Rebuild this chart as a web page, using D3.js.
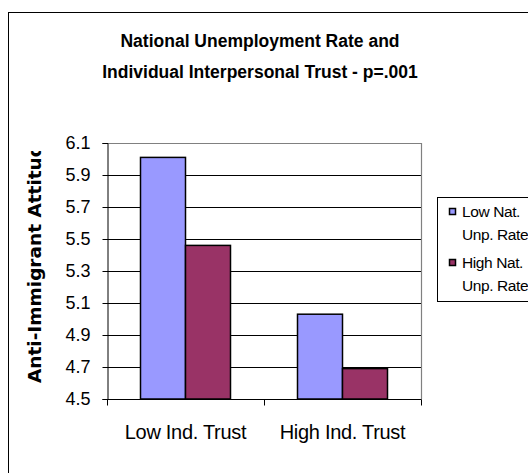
<!DOCTYPE html>
<html>
<head>
<meta charset="utf-8">
<script src="https://cdn.jsdelivr.net/npm/d3@7/dist/d3.min.js"></script>
<style>
  html, body { margin: 0; padding: 0; background: #fff; }
  svg { display: block; }
  text { font-family: Arial, "Liberation Sans", sans-serif; fill: #000; }
</style>
</head>
<body>
<svg id="chart" width="528" height="473"></svg>
<script>
// Chart data
const categories = ["Low Ind. Trust", "High Ind. Trust"];
const seriesNames = ["Low Nat. Unp. Rate", "High Nat. Unp. Rate"];
const legendLines = [["Low Nat.", "Unp. Rate"], ["High Nat.", "Unp. Rate"]];
const lowNatUnpRate = [6.01, 5.03];
const highNatUnpRate = [5.46, 4.69];
const yTickValues = [4.5, 4.7, 4.9, 5.1, 5.3, 5.5, 5.7, 5.9, 6.1];
const seriesColors = ["#9999FF", "#993366"];
const titleLines = ["National Unemployment Rate and", "Individual Interpersonal Trust - p=.001"];
const yAxisTitle = "Anti-Immigrant Attitudes";

const svg = d3.select("#chart");

// Outer chart frame (runs off the right and bottom edges)
svg.append("rect")
  .attr("x", 8.5).attr("y", 12.5)
  .attr("width", 560).attr("height", 500)
  .attr("fill", "#fff").attr("stroke", "#000").attr("stroke-width", 1);

// Plot area
const plot = { left: 107, right: 421, top: 143, bottom: 399 };

const y = d3.scaleLinear().domain([4.5, 6.1]).range([plot.bottom, plot.top]);
const p = 0.4268;
const x0 = d3.scaleBand().domain(categories).range([plot.left, plot.right])
  .paddingInner(p).paddingOuter(p / 2);
const x1 = d3.scaleBand().domain(seriesNames).range([0, x0.bandwidth()]);

// Horizontal gridlines
svg.append("g")
  .selectAll("line")
  .data(yTickValues.filter(v => v > 4.5 && v < 6.1))
  .join("line")
  .attr("x1", plot.left).attr("x2", plot.right)
  .attr("y1", d => Math.round(y(d)) + 0.5).attr("y2", d => Math.round(y(d)) + 0.5)
  .attr("stroke", "#000").attr("stroke-width", 1);

// Plot area border (top and right)
svg.append("path")
  .attr("d", `M${plot.left},${plot.top + 0.5}H${plot.right + 0.5}V${plot.bottom}`)
  .attr("fill", "none").attr("stroke", "#808080").attr("stroke-width", 1.2);

// Bars
const rows = categories.map((c, i) => ({ cat: c, vals: [lowNatUnpRate[i], highNatUnpRate[i]] }));
svg.append("g")
  .selectAll("g")
  .data(rows)
  .join("g")
  .attr("transform", d => `translate(${x0(d.cat)},0)`)
  .selectAll("rect")
  .data(d => d.vals.map((v, j) => ({ name: seriesNames[j], v, j })))
  .join("rect")
  .attr("x", d => x1(d.name))
  .attr("width", x1.bandwidth())
  .attr("y", d => y(d.v))
  .attr("height", d => y(4.5) - y(d.v))
  .attr("fill", d => seriesColors[d.j])
  .attr("stroke", "#000").attr("stroke-width", 1.5);

// Y axis
const yAxis = d3.axisLeft(y).tickValues(yTickValues).tickSize(5).tickPadding(12)
  .tickFormat(d3.format(".1f"));
const gy = svg.append("g").attr("transform", `translate(${plot.left + 0.5},0)`).call(yAxis);
gy.select(".domain").attr("stroke", "#000");
gy.selectAll(".tick line").attr("stroke", "#000");
gy.selectAll(".tick text")
  .style("font-family", "Arial, 'Liberation Sans', sans-serif")
  .style("font-size", "18px").attr("fill", "#000");

// X axis (ticks at category boundaries)
const gx = svg.append("g").attr("transform", `translate(0,${plot.bottom + 0.5})`);
gx.append("line").attr("x1", plot.left).attr("x2", plot.right + 0.5)
  .attr("stroke", "#000");
const boundaries = [plot.left, (plot.left + plot.right) / 2, plot.right];
gx.selectAll("line.tk").data(boundaries).join("line").attr("class", "tk")
  .attr("x1", d => Math.round(d) + 0.5).attr("x2", d => Math.round(d) + 0.5)
  .attr("y1", 0).attr("y2", 6).attr("stroke", "#000");
gx.selectAll("text").data(categories).join("text")
  .attr("x", d => x0(d) + x0.bandwidth() / 2)
  .attr("y", 39)
  .attr("text-anchor", "middle")
  .style("font-size", "20px")
  .style("letter-spacing", "-0.3px")
  .text(d => d);

// Title
svg.append("g").selectAll("text").data(titleLines).join("text")
  .attr("x", 260).attr("y", (d, i) => 47 + i * 31)
  .attr("text-anchor", "middle")
  .style("font-size", "17.5px").style("font-weight", "bold")
  .text(d => d);

// Y axis title, clipped at the top
svg.append("clipPath").attr("id", "ytclip")
  .append("rect").attr("x", 0).attr("y", 151).attr("width", 100).attr("height", 300);
svg.append("g")
  .attr("clip-path", "url(#ytclip)")
  .append("text")
  .attr("transform", "translate(41,383) rotate(-90)")
  .attr("text-anchor", "start")
  .style("font-family", "'DejaVu Sans', sans-serif")
  .style("font-size", "18.5px").style("font-weight", "bold")
  .text(yAxisTitle);

// Legend
const lg = svg.append("g");
lg.append("rect").attr("x", 437.5).attr("y", 197.5).attr("width", 120).attr("height", 104)
  .attr("fill", "#fff").attr("stroke", "#000");
const items = lg.selectAll("g.item").data(legendLines).join("g").attr("class", "item")
  .attr("transform", (d, i) => `translate(0,${i * 51})`);
items.append("rect")
  .attr("x", 449.5).attr("y", 208.5).attr("width", 6).attr("height", 6)
  .attr("fill", (d, i) => seriesColors[i]).attr("stroke", "#000").attr("stroke-width", 1.5);
items.selectAll("text").data(d => d).join("text")
  .attr("x", 462).attr("y", (d, k) => 217 + k * 23)
  .style("font-size", "15.5px")
  .style("letter-spacing", "-0.4px")
  .text(d => d);
</script>
</body>
</html>
